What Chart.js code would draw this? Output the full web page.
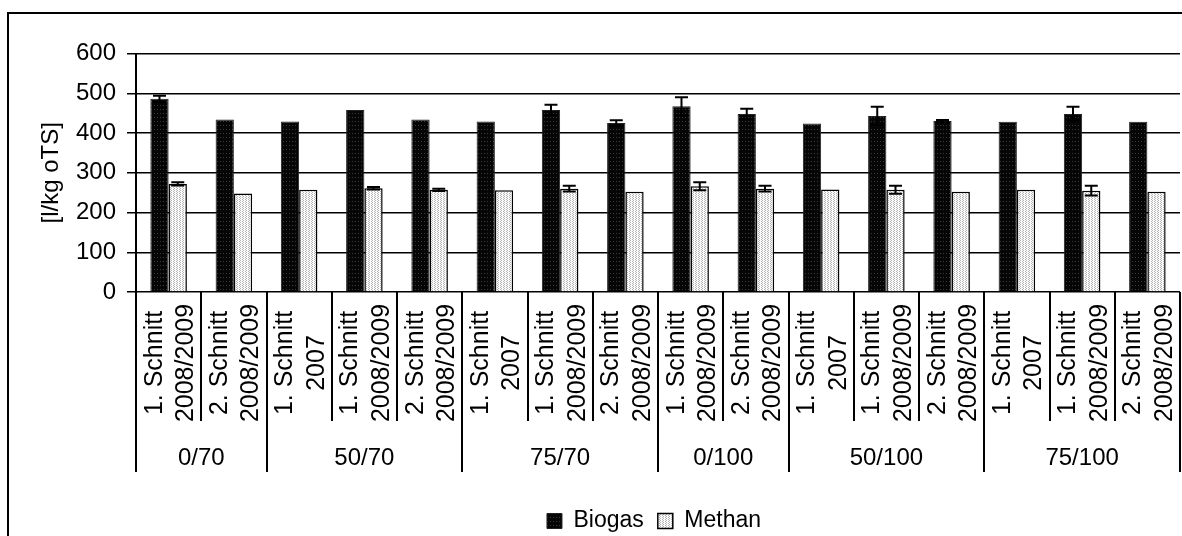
<!DOCTYPE html>
<html>
<head>
<meta charset="utf-8">
<script src="https://cdn.jsdelivr.net/npm/chart.js@4.4.1/dist/chart.umd.min.js"></script>
<style>
html,body{margin:0;padding:0;background:#fff;overflow:hidden}
canvas{display:block}
</style>
</head>
<body>
<canvas id="c" width="1182" height="536"></canvas>
<script>
// ---- data ----
const categoryLabels = [
  ['1. Schnitt', '2008/2009'], ['2. Schnitt', '2008/2009'],
  ['1. Schnitt', '2007'], ['1. Schnitt', '2008/2009'], ['2. Schnitt', '2008/2009'],
  ['1. Schnitt', '2007'], ['1. Schnitt', '2008/2009'], ['2. Schnitt', '2008/2009'],
  ['1. Schnitt', '2008/2009'], ['2. Schnitt', '2008/2009'],
  ['1. Schnitt', '2007'], ['1. Schnitt', '2008/2009'], ['2. Schnitt', '2008/2009'],
  ['1. Schnitt', '2007'], ['1. Schnitt', '2008/2009'], ['2. Schnitt', '2008/2009']
];
const groupLabels = ['0/70', '50/70', '75/70', '0/100', '50/100', '75/100'];
const groupSizes = [2, 3, 3, 2, 3, 3];
const biogas    = [486, 434, 429, 458, 434, 429, 458, 425, 467, 448, 424, 443, 430, 428, 448, 428];
const biogasErr = [8, 0, 0, 0, 0, 0, 13, 7, 23, 13, 0, 23, 3, 0, 18, 0];
const methan    = [272, 248, 257, 261, 257, 256, 260, 252, 266, 260, 258, 257, 252, 257, 255, 252];
const methanErr = [4, 0, 0, 3, 3, 0, 7, 0, 10, 7, 0, 10, 0, 0, 12, 0];
const yTicks = [0, 100, 200, 300, 400, 500, 600];
const seriesNames = ['Biogas', 'Methan'];
const axisTitle = '[l/kg oTS]';

const FONT = '"Liberation Sans", Arial, Helvetica, sans-serif';

function makePattern(bg, dot, w, h, dots) {
  const c = document.createElement('canvas');
  c.width = w; c.height = h;
  const g = c.getContext('2d');
  g.fillStyle = bg; g.fillRect(0, 0, w, h);
  g.fillStyle = dot;
  dots.forEach(p => g.fillRect(p[0], p[1], 1, 1));
  return g.createPattern(c, 'repeat');
}
const biogasFill = makePattern('#060606', '#3a3a3a', 3, 4, [[1, 1]]);
const methanFill = makePattern('#fbfbfb', '#b4b4b4', 3, 2, [[0, 0], [2, 1]]);

const errorBarPlugin = {
  id: 'errorBars',
  afterDatasetsDraw(chart) {
    const ys = chart.scales.y, ctx = chart.ctx;
    const errs = [biogasErr, methanErr];
    chart.data.datasets.forEach((ds, di) => {
      const meta = chart.getDatasetMeta(di);
      meta.data.forEach((bar, i) => {
        const e = errs[di][i];
        if (!e) return;
        const v = ds.data[i];
        const yT = ys.getPixelForValue(v + e), yB = ys.getPixelForValue(v - e);
        ctx.save();
        ctx.strokeStyle = '#000'; ctx.lineWidth = 2;
        ctx.beginPath();
        ctx.moveTo(bar.x, yT); ctx.lineTo(bar.x, yB);
        ctx.moveTo(bar.x - 6.5, yT); ctx.lineTo(bar.x + 6.5, yT);
        ctx.moveTo(bar.x - 6.5, yB); ctx.lineTo(bar.x + 6.5, yB);
        ctx.stroke();
        ctx.restore();
      });
    });
  }
};

const legendShiftPlugin = {
  id: 'legendShift',
  afterLayout(chart) {
    const lg = chart.legend;
    if (!lg) return;
    const pad = lg.options.labels.padding;
    const fs = lg.options.labels.font.size;
    const dy = (521 - pad - fs / 2) - lg.top;
    const dx = 654 - (lg.left + lg.right) / 2;
    lg.top += dy; lg.bottom += dy;
    lg.left += dx; lg.right += dx;
  }
};

const groupAxisPlugin = {
  id: 'groupAxis',
  afterDraw(chart) {
    const xs = chart.scales.x, ys = chart.scales.y, ctx = chart.ctx;
    const y0 = ys.getPixelForValue(0);
    const n = categoryLabels.length;
    const w = xs.getPixelForValue(1) - xs.getPixelForValue(0);
    const edge = i => xs.getPixelForValue(0) - w / 2 + i * w;
    const groupEdges = new Set([0]);
    let acc = 0;
    groupSizes.forEach(s => { acc += s; groupEdges.add(acc); });

    ctx.save();
    ctx.strokeStyle = '#000';
    ctx.lineWidth = 2;
    ctx.beginPath();
    for (let i = 0; i <= n; i++) {
      const x = Math.round(edge(i));
      ctx.moveTo(x, y0);
      ctx.lineTo(x, y0 + (groupEdges.has(i) ? 180 : 129));
    }
    ctx.stroke();

    ctx.fillStyle = '#000';
    ctx.font = '25px ' + FONT;
    ctx.textAlign = 'center';
    ctx.textBaseline = 'alphabetic';
    categoryLabels.forEach((lines, i) => {
      const cx = xs.getPixelForValue(i);
      ctx.save();
      ctx.translate(cx, y0 + 71);
      ctx.rotate(-Math.PI / 2);
      ctx.fillText(lines[0], 0, -7);
      ctx.fillText(lines[1], 0, 24.5);
      ctx.restore();
    });

    ctx.font = '24px ' + FONT;
    let start = 0;
    groupLabels.forEach((g, gi) => {
      const end = start + groupSizes[gi];
      const cx = (edge(start) + edge(end)) / 2;
      ctx.fillText(g, cx, y0 + 173);
      start = end;
    });

    ctx.lineWidth = 2;
    ctx.strokeRect(8, 13, 1300, 700);
    ctx.restore();
  }
};

new Chart(document.getElementById('c'), {
  type: 'bar',
  data: {
    labels: categoryLabels,
    datasets: [
      { label: seriesNames[0], data: biogas, backgroundColor: biogasFill, borderColor: '#222', borderWidth: 1,
        categoryPercentage: 0.56, barPercentage: 1 },
      { label: seriesNames[1], data: methan, backgroundColor: methanFill, borderColor: '#000', borderWidth: 1.5,
        categoryPercentage: 0.56, barPercentage: 1 }
    ]
  },
  options: {
    responsive: false,
    animation: false,
    events: [],
    layout: { padding: { left: 8, top: 53.5, right: 2, bottom: 0 } },
    plugins: {
      legend: {
        position: 'bottom',
        labels: { font: { size: 23, family: FONT }, color: '#000', boxWidth: 15, boxHeight: 15, padding: 14 }
      },
      tooltip: { enabled: false }
    },
    scales: {
      x: {
        offset: true,
        grid: { display: false },
        border: { display: false },
        ticks: { display: false },
        afterFit(s) {
          const lgH = s.chart.legend ? s.chart.legend.height : 0;
          s.height = 536 - 292 - lgH;
        }
      },
      y: {
        min: 0, max: 600,
        afterBuildTicks(s) { s.ticks = yTicks.map(v => ({ value: v })); },
        ticks: { font: { size: 24, family: FONT }, color: '#000', padding: 11 },
        grid: { color: '#000', lineWidth: 1.5, tickLength: 9, drawTicks: true },
        border: { color: '#000', width: 2 },
        title: { display: true, text: axisTitle, color: '#000', font: { size: 24, family: FONT }, padding: { top: 29, bottom: 0 } },
        afterFit(s) { s.width = 128; }
      }
    }
  },
  plugins: [errorBarPlugin, legendShiftPlugin, groupAxisPlugin]
});
</script>
</body>
</html>
